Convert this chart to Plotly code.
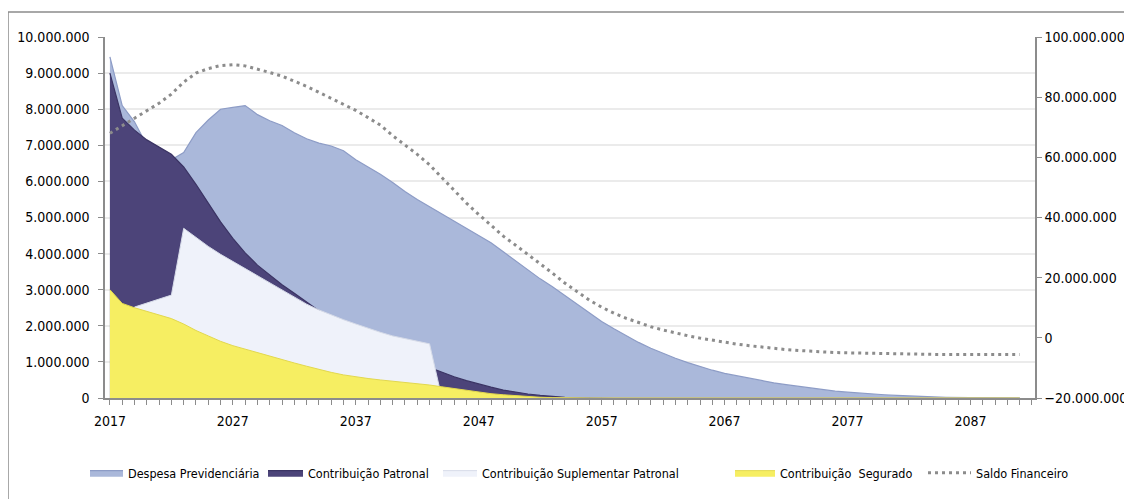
import plotly.graph_objects as go

years = list(range(2017, 2092))

# values in millions (R$)
despesa_mi = [9.45, 8.1, 7.65, 7.0, 6.75, 6.6, 6.8, 7.35, 7.7, 8.0,
              8.05, 8.1, 7.85, 7.68, 7.55, 7.35, 7.18, 7.06, 6.98, 6.85,
              6.6, 6.4, 6.2, 5.97, 5.72, 5.5, 5.3, 5.08, 4.88, 4.68,
              4.48, 4.3, 4.05, 3.8, 3.55, 3.3, 3.08, 2.84, 2.6, 2.36,
              2.12, 1.92, 1.72, 1.54, 1.38, 1.23, 1.1, 0.98, 0.87, 0.77,
              0.68, 0.61, 0.54, 0.47, 0.42, 0.37, 0.32, 0.28, 0.23, 0.19,
              0.16, 0.13, 0.11, 0.09, 0.07, 0.05, 0.04, 0.03, 0.02, 0.015,
              0.01, 0.01, 0.005, 0.005, 0.0]

patronal_mi = [9.0, 7.75, 7.42, 7.15, 6.95, 6.75, 6.4, 5.92, 5.4, 4.88,
               4.42, 4.02, 3.68, 3.4, 3.14, 2.9, 2.67, 2.42, 2.18, 1.96,
               1.76, 1.57, 1.4, 1.25, 1.1, 0.97, 0.84, 0.71, 0.59, 0.48,
               0.38, 0.3, 0.22, 0.16, 0.11, 0.07, 0.04, 0.02, 0.01] + [0.0] * 36

suplementar_mi = [0.0, 0.0, 2.52, 2.63, 2.74, 2.85, 4.7, 4.45, 4.2, 3.98,
                  3.78, 3.58, 3.38, 3.18, 2.98, 2.78, 2.6, 2.44, 2.3, 2.17,
                  2.05, 1.93, 1.82, 1.72, 1.64, 1.57, 1.5] + [0.0] * 48

segurado_mi = [3.0, 2.62, 2.5, 2.4, 2.3, 2.2, 2.05, 1.87, 1.72, 1.57,
               1.45, 1.35, 1.25, 1.15, 1.06, 0.97, 0.88, 0.79, 0.71, 0.64,
               0.58, 0.54, 0.5, 0.47, 0.44, 0.4, 0.36, 0.31, 0.26, 0.21,
               0.16, 0.12, 0.09, 0.06, 0.04, 0.02, 0.01] + [0.0] * 38

saldo_mi = [68, 70.5, 73, 75.5, 78, 81, 85, 88, 89.5, 90.5,
            90.8, 90.4, 89.4, 88.2, 87, 85.3, 83.6, 81.6, 79.6, 77.8,
            75.6, 73.2, 70.7, 67.2, 64.2, 61, 57.5, 53.2, 49, 44.8,
            41, 37.3, 33.8, 30.8, 27.8, 24.8, 21.5, 18.2, 15.2, 12.5,
            10.2, 8.2, 6.5, 5, 3.7, 2.6, 1.6, 0.7, -0.1, -0.8,
            -1.5, -2.1, -2.6, -3.1, -3.5, -3.9, -4.2, -4.5, -4.7, -4.9,
            -5.0, -5.1, -5.2, -5.3, -5.4, -5.45] + [-5.5] * 9

x_tick_labels = ["2017", "2027", "2037", "2047", "2057", "2067", "2077", "2087"]
x_tick_vals = [2017, 2027, 2037, 2047, 2057, 2067, 2077, 2087]

MI = 1_000_000
def scale(v):
    return [a * MI for a in v]

FONT = "DejaVu Sans Condensed, Liberation Sans Narrow, sans-serif"

# the page body adds an 8px offset, so figure coords = screen coords - 8
OFF = 8
W, H = 1132 - OFF, 499 - OFF
L, R, T, B = 105 - OFF, 1035 - OFF, 37 - OFF, 398 - OFF
pw, ph = R - L, B - T
def px(x):
    return (x - OFF - L) / pw
def py(y):
    return (B - (y - OFF)) / ph

fig = go.Figure()
fig.add_trace(go.Scatter(x=years, y=scale(despesa_mi), name="Despesa Previdenciária",
                         mode="lines", fill="tozeroy", fillcolor="#aab8da", legend="legend",
                         line=dict(color="#8d9cc6", width=1.2)))
fig.add_trace(go.Scatter(x=years, y=scale(patronal_mi), name="Contribuição Patronal",
                         mode="lines", fill="tozeroy", fillcolor="#4c4479", legend="legend2",
                         line=dict(color="#3b3464", width=1.2)))
fig.add_trace(go.Scatter(x=years, y=scale(suplementar_mi), name="Contribuição Suplementar Patronal",
                         mode="lines", fill="tozeroy", fillcolor="#eff2fa", legend="legend3",
                         line=dict(color="#d6dbe8", width=1)))
fig.add_trace(go.Scatter(x=years, y=scale(segurado_mi), name="Contribuição  Segurado",
                         mode="lines", fill="tozeroy", fillcolor="#f6ee62", legend="legend4",
                         line=dict(color="#e2d84e", width=1)))
fig.add_trace(go.Scatter(x=years, y=scale(saldo_mi), name="Saldo Financeiro",
                         mode="lines", yaxis="y2", legend="legend5",
                         line=dict(color="#8c8c8c", width=3, dash="3px,4px")))

legend_item_x = [90, 268, 443, 735, 928]
legend_item_w = [33, 35, 34, 40, 43]
legend_y = 473

def leg(xs, iw):
    return dict(orientation="h", x=px(xs - 5), xanchor="left", y=py(legend_y), yanchor="middle",
                font=dict(family=FONT, size=12.5, color="#000"), itemwidth=iw,
                bgcolor="rgba(0,0,0,0)", borderwidth=0)

fig.update_layout(
    width=W, height=H,
    margin=dict(l=L, r=W - R, t=T, b=H - B, autoexpand=False),
    paper_bgcolor="white", plot_bgcolor="white",
    separators=",.",
    font=dict(family=FONT, size=14, color="#000"),
    showlegend=True,
    legend=leg(legend_item_x[0], legend_item_w[0]),
    legend2=leg(legend_item_x[1], legend_item_w[1]),
    legend3=leg(legend_item_x[2], legend_item_w[2]),
    legend4=leg(legend_item_x[3], legend_item_w[3]),
    legend5=leg(legend_item_x[4], legend_item_w[4]),
    xaxis=dict(range=[2016.6, 2092.25], tickvals=x_tick_vals, ticktext=x_tick_labels,
               automargin=False, ticklabelstandoff=4,
               showgrid=False, zeroline=False, showline=True, linecolor="#8c8c8c", linewidth=1.5,
               ticks="outside", ticklen=5, tickcolor="#8c8c8c",
               minor=dict(dtick=1, tick0=2017, ticks="outside", ticklen=5, tickcolor="#8c8c8c"),
               tickfont=dict(family=FONT, size=14)),
    yaxis=dict(range=[0, 10 * MI], dtick=MI, tickformat=",d", automargin=False, ticklabelstandoff=6,
               showgrid=True, gridcolor="#ebebeb", gridwidth=1.5, zeroline=False,
               showline=True, linecolor="#8c8c8c", linewidth=1.5,
               ticks="outside", ticklen=5, tickcolor="#8c8c8c",
               tickfont=dict(family=FONT, size=14)),
    yaxis2=dict(range=[-20 * MI, 100 * MI], dtick=20 * MI, tickformat=",d", overlaying="y", side="right",
                automargin=False,
                showgrid=False, zeroline=False, showline=True, linecolor="#8c8c8c", linewidth=1.5,
                ticks="outside", ticklen=5, tickcolor="#8c8c8c",
                tickfont=dict(family=FONT, size=14)),
    shapes=[dict(type="rect", xref="paper", yref="paper",
                 x0=px(8), x1=px(1131), y0=py(530), y1=py(12),
                 line=dict(color="#8c8c8c", width=1.5), fillcolor="rgba(0,0,0,0)", layer="below")],
)

fig.write_html("out.html")
